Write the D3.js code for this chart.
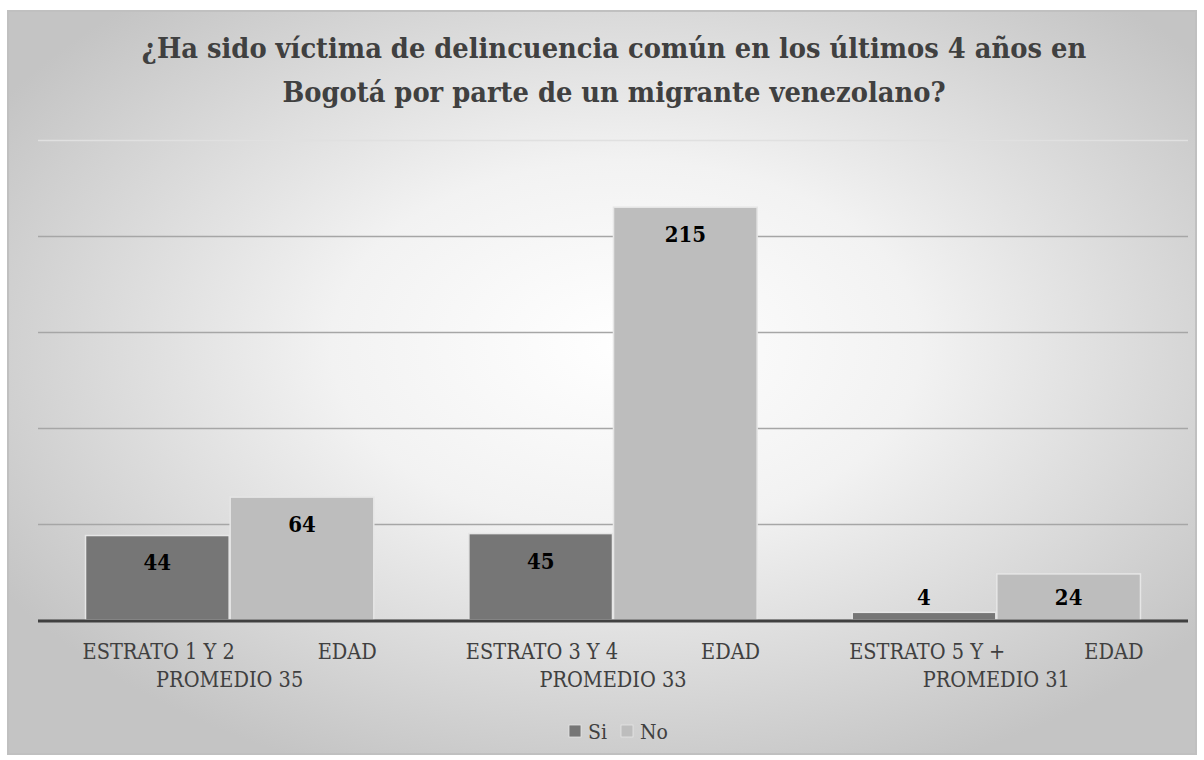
<!DOCTYPE html>
<html><head><meta charset="utf-8">
<script src="https://cdn.jsdelivr.net/npm/d3@7"></script>
<style>
html,body{margin:0;padding:0;background:#fff;}
svg{display:block;}
</style></head>
<body>
<svg id="c" width="1204" height="760"></svg>
<script>
const titleLines = ["¿Ha sido víctima de delincuencia común en los últimos 4 años en", "Bogotá por parte de un migrante venezolano?"];
const categories = ["ESTRATO 1 Y 2", "ESTRATO 3 Y 4", "ESTRATO 5 Y +"];
const categoryLine2 = ["PROMEDIO 35", "PROMEDIO 33", "PROMEDIO 31"];
const series = ["Si", "No"];
const siValues = [44, 45, 4];
const noValues = [64, 215, 24];
const yTicks = [0, 50, 100, 150, 200, 250];
const colors = {Si: "#767676", No: "#bdbdbd"};

const svg = d3.select("#c");
const serif = "'DejaVu Serif Condensed','DejaVu Serif',serif";

// background
const defs = svg.append("defs");
const rg = defs.append("radialGradient").attr("id","bg").attr("cx","52%").attr("cy","45%").attr("r","62%");
rg.append("stop").attr("offset","0%").attr("stop-color","#ffffff");
rg.append("stop").attr("offset","40%").attr("stop-color","#f2f2f2");
rg.append("stop").attr("offset","100%").attr("stop-color","#c4c4c4");
svg.append("rect").attr("x",8).attr("y",11).attr("width",1188).attr("height",743)
  .attr("fill","url(#bg)").attr("stroke","#c0c0c0").attr("stroke-width",2);

const m = {left:38, right:1188, top:140, bottom:620};
const x0 = d3.scaleBand().domain(categories).range([m.left, m.right]).paddingInner(0.248).paddingOuter(0.124);
const x1 = d3.scaleBand().domain(series).range([0, x0.bandwidth()]).paddingInner(0.007);
const y = d3.scaleLinear().domain([0, 250]).range([m.bottom, m.top]);

// gridlines
const yAxis = d3.axisLeft(y).tickValues(yTicks).tickSize(-(m.right-m.left)).tickFormat("");
const ga = svg.append("g").attr("transform",`translate(${m.left},0)`).call(yAxis);
ga.select(".domain").remove();
ga.selectAll(".tick line").attr("stroke", d => d===250 ? "#e0e0e0" : "#a6a6a6").attr("stroke-width",1.3);

// bars
const data = categories.map((c,i)=>({cat:c, vals:[{s:"Si",v:siValues[i]},{s:"No",v:noValues[i]}]}));
const groups = svg.append("g").selectAll("g").data(data).join("g")
  .attr("transform", d=>`translate(${x0(d.cat)},0)`);
groups.selectAll("rect").data(d=>d.vals).join("rect")
  .attr("x", d=>x1(d.s)).attr("width", x1.bandwidth())
  .attr("y", d=>y(d.v)).attr("height", d=>y(0)-y(d.v))
  .attr("fill", d=>colors[d.s]).attr("stroke","#e6e6e6").attr("stroke-width",1.5);
groups.selectAll("text.val").data(d=>d.vals).join("text").attr("class","val")
  .attr("x", d=>x1(d.s)+x1.bandwidth()/2)
  .attr("y", d=>Math.min(y(d.v)+27, y(0)-23))
  .attr("dy","0.36em").attr("text-anchor","middle")
  .attr("font-family",serif).attr("font-weight","bold").attr("font-size",22).attr("fill","#000")
  .text(d=>d.v);

// baseline
svg.append("line").attr("x1",m.left).attr("x2",m.right).attr("y1",y(0)+1).attr("y2",y(0)+1)
  .attr("stroke","#404040").attr("stroke-width",3);

// category labels
const xl = svg.append("g").attr("font-family",serif).attr("font-size",21.5).attr("fill","#404040");
categories.forEach((c,i)=>{
  const cx = x0(c)+x0.bandwidth()/2;
  const hw = x0.bandwidth()/2 + 3;
  xl.append("text").attr("x",cx-hw).attr("y",659).attr("text-anchor","start").text(c);
  xl.append("text").attr("x",cx+hw).attr("y",659).attr("text-anchor","end").text("EDAD");
  xl.append("text").attr("x",cx).attr("y",687).attr("text-anchor","middle").text(categoryLine2[i]);
});

// title
const t = svg.append("text").attr("text-anchor","middle").attr("font-family",serif)
  .attr("font-weight","bold").attr("font-size",28.7).attr("fill","#404040");
titleLines.forEach((l,i)=>t.append("tspan").attr("x",614).attr("y",58+i*44).text(l));

// legend
const lg = svg.append("g").attr("transform","translate(569,739)");
const items = [{s:"Si",x:0},{s:"No",x:52}];
items.forEach(it=>{
  lg.append("rect").attr("x",it.x).attr("y",-14).attr("width",12).attr("height",12)
    .attr("fill",colors[it.s]).attr("stroke","#e6e6e6").attr("stroke-width",0.8);
  lg.append("text").attr("x",it.x+19).attr("y",0).attr("font-family",serif)
    .attr("font-size",21).attr("fill","#404040").text(it.s);
});
</script>
</body></html>
